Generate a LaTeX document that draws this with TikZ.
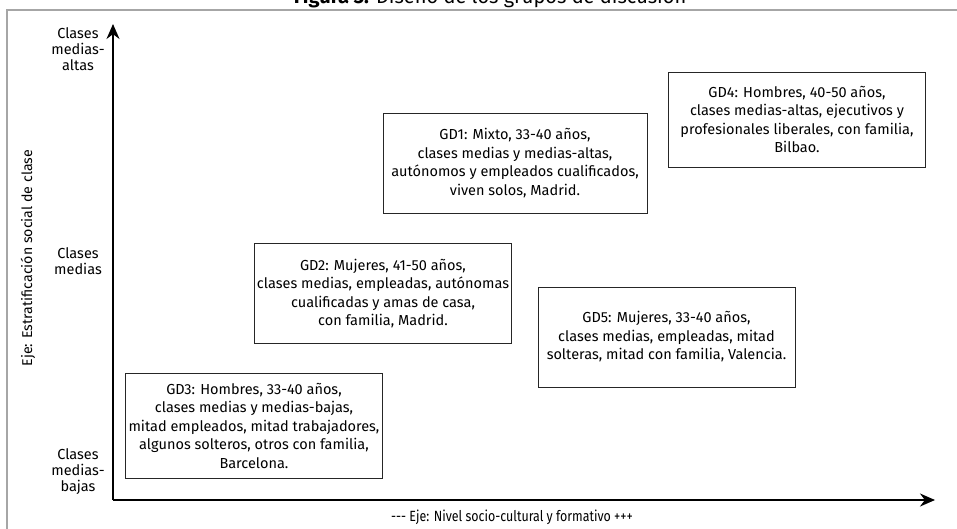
\documentclass[tikz,border=0pt]{standalone}
\usepackage{fontspec}
\setmainfont{Fira Sans}
\newfontfamily\ejefont[FakeStretch=0.84]{Fira Sans}
\usetikzlibrary{arrows.meta}

\tikzset{
  caja/.style={draw=black!85, line width=1pt, align=center, inner sep=0pt,
    minimum width=257pt, minimum height=100pt,
    font=\fontsize{14.5}{18.5}\selectfont},
  eje/.style={line width=1.8pt, -{Stealth[length=15pt,width=13pt]}},
  nivel/.style={align=center, font=\fontsize{14.5}{16}\selectfont},
  rotulo/.style={font=\ejefont\fontsize{14.8}{17}\selectfont}
}

\begin{document}
\begin{tikzpicture}[x=1pt,y=-1pt]  % 1pt = 1 像素, y 轴向下

    \clip (0,0) rectangle (957,528);

    % 外框与被截断的标题
    \draw[line width=2pt, color=black!35] (965,10) -- (7,10) -- (7,540);
    \node[anchor=base, font=\fontsize{20}{24}\selectfont] (titulo) at (490,3.5)
        {\textbf{Figura 3.} Diseño de los grupos de discusión};

    % 坐标轴
    \coordinate (origen) at (113,500);
    \coordinate (ytope) at (113,24);
    \coordinate (xfin) at (935,500);
    \draw[eje] (origen) -- (ytope); % 纵轴
    \draw[eje] (origen) -- (xfin);  % 横轴

    % 轴标签
    \node[rotate=90, font=\fontsize{14.2}{16}\selectfont] (ejey) at (28,258) {Eje: Estratificación social de clase};
    \node[rotulo] (ejex) at (512,517) {--- Eje: Nivel socio-cultural y formativo +++};

    % 纵轴上的三个层级
    \node[nivel] (altas) at (78,49) {Clases\\medias-\\altas};
    \node[nivel] (medias) at (78,261) {Clases\\medias};
    \node[nivel] (bajas) at (78,472) {Clases\\medias-\\bajas};

    % 五个讨论组
    \node[caja, minimum width=264pt] (gd1) at (515,163)
        {GD1: Mixto, 33-40 años,\\clases medias y medias-altas,\\autónomos y empleados cualificados,\\viven solos, Madrid.};
    \node[caja] (gd2) at (383,293.5)
        {GD2: Mujeres, 41-50 años,\\clases medias, empleadas, autónomas\\cualificadas y amas de casa,\\con familia, Madrid.};
    \node[caja, minimum height=105pt] (gd3) at (254,425.5)
        {GD3: Hombres, 33-40 años,\\clases medias y medias-bajas,\\mitad empleados, mitad trabajadores,\\algunos solteros, otros con familia,\\Barcelona.};
    \node[caja, minimum height=95pt] (gd4) at (797,119.5)
        {GD4: Hombres, 40-50 años,\\clases medias-altas, ejecutivos y\\profesionales liberales, con familia,\\Bilbao.};
    \node[caja] (gd5) at (666.5,337)
        {GD5: Mujeres, 33-40 años,\\clases medias, empleadas, mitad\\solteras, mitad con familia, Valencia.};

\end{tikzpicture}
\end{document}
